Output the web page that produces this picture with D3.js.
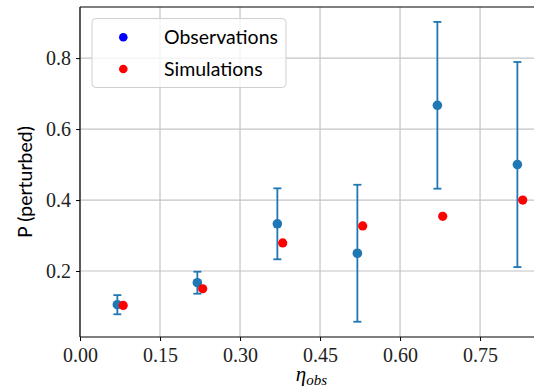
<!DOCTYPE html>
<html>
<head>
<meta charset="utf-8">
<script src="https://cdn.jsdelivr.net/npm/d3@7"></script>
<style>
  html, body { margin: 0; padding: 0; background: #fff; }
  svg { display: block; }
</style>
</head>
<body>
<div id="chart"></div>
<script>
// observations (with error bars) and simulations
const etaObs = [0.07, 0.22, 0.37, 0.52, 0.67, 0.82];
const pObs = [0.105, 0.167, 0.333, 0.25, 0.667, 0.5];
const errObs = [0.027, 0.031, 0.10, 0.193, 0.235, 0.289];
const etaSim = [0.081, 0.23, 0.38, 0.53, 0.68, 0.83];
const pSim = [0.103, 0.150, 0.279, 0.327, 0.354, 0.400];
const xTicks = [0, 0.15, 0.30, 0.45, 0.60, 0.75];
const yTicks = [0.2, 0.4, 0.6, 0.8];
const legendLabels = ['Observations', 'Simulations'];
const legendColors = ['#0000ff', '#ff0000'];

const width = 534, height = 389;
const plotLeft = 80, plotRight = 543, plotTop = 7, plotBottom = 337;
const obsColor = '#1f77b4';
const simColor = '#ff0000';
const gridColor = '#c4c4c4';

const svg = d3.select('#chart').append('svg')
  .attr('width', width)
  .attr('height', height);

const x = d3.scaleLinear().domain([0, 0.868]).range([plotLeft, plotRight]);
const y = d3.scaleLinear().domain([0.014, 0.944]).range([plotBottom, plotTop]);

// Grid
svg.append('g').selectAll('line').data(xTicks).join('line')
  .attr('x1', d => x(d)).attr('x2', d => x(d))
  .attr('y1', plotTop).attr('y2', plotBottom)
  .attr('stroke', gridColor).attr('stroke-width', 1.2);
svg.append('g').selectAll('line').data(yTicks).join('line')
  .attr('x1', plotLeft).attr('x2', plotRight)
  .attr('y1', d => y(d)).attr('y2', d => y(d))
  .attr('stroke', gridColor).attr('stroke-width', 1.2);

// Axes
const xAxis = svg.append('g')
  .attr('transform', `translate(0,${plotBottom})`)
  .call(d3.axisBottom(x).tickValues(xTicks).tickFormat(d3.format('.2f')).tickSizeOuter(0).tickSize(4).tickPadding(5));
const yAxis = svg.append('g')
  .attr('transform', `translate(${plotLeft},0)`)
  .call(d3.axisLeft(y).tickValues(yTicks).tickFormat(d3.format('.1f')).tickSizeOuter(0).tickSize(4).tickPadding(5));

[xAxis, yAxis].forEach(g => {
  g.select('.domain').remove();
  g.selectAll('.tick line').attr('stroke', '#000').attr('stroke-width', 1);
  g.selectAll('.tick text')
    .attr('fill', '#222')
    .style('font-family', '"Liberation Serif", "DejaVu Serif", serif')
    .style('font-size', '20px');
});
xAxis.selectAll('.tick text').attr('dy', '0.8em');

// Spines
const spine = (x1, y1, x2, y2) => svg.append('line')
  .attr('x1', x1).attr('y1', y1).attr('x2', x2).attr('y2', y2)
  .attr('stroke', '#000').attr('stroke-width', 1.2);
spine(plotLeft, plotTop, plotLeft, plotBottom);
spine(plotLeft, plotBottom, plotRight, plotBottom);
spine(plotLeft, plotTop, plotRight, plotTop);
spine(plotRight, plotTop, plotRight, plotBottom);

// Error bars
const obs = etaObs.map((e, i) => ({ x: e, y: pObs[i], err: errObs[i] }));
const eb = svg.append('g').selectAll('g').data(obs).join('g');
eb.append('line')
  .attr('x1', d => x(d.x)).attr('x2', d => x(d.x))
  .attr('y1', d => y(d.y - d.err)).attr('y2', d => y(d.y + d.err))
  .attr('stroke', obsColor).attr('stroke-width', 1.8);
[-1, 1].forEach(s => {
  eb.append('line')
    .attr('x1', d => x(d.x) - 4).attr('x2', d => x(d.x) + 4)
    .attr('y1', d => y(d.y + s * d.err)).attr('y2', d => y(d.y + s * d.err))
    .attr('stroke', obsColor).attr('stroke-width', 1.8);
});

svg.append('g').selectAll('circle').data(obs).join('circle')
  .attr('cx', d => x(d.x)).attr('cy', d => y(d.y)).attr('r', 4.8)
  .attr('fill', obsColor);

svg.append('g').selectAll('circle').data(etaSim).join('circle')
  .attr('cx', d => x(d)).attr('cy', (d, i) => y(pSim[i])).attr('r', 4.6)
  .attr('fill', simColor);

// Legend
const lg = svg.append('g');
lg.append('rect')
  .attr('x', 92).attr('y', 18.5).attr('width', 194).attr('height', 69)
  .attr('rx', 4).attr('fill', '#fff').attr('fill-opacity', 0.8)
  .attr('stroke', '#d0d0d0').attr('stroke-width', 1);
legendLabels.forEach((lab, i) => {
  const cy = 37.3 + i * 31.7;
  lg.append('circle').attr('cx', 123.3).attr('cy', cy).attr('r', 4.3).attr('fill', legendColors[i]);
  lg.append('text').attr('x', 164).attr('y', cy).attr('dy', '0.35em')
    .style('font-family', 'Lato, "DejaVu Sans", sans-serif')
    .style('font-size', '19.5px')
    .attr('fill', '#000')
    .text(lab);
});

// Axis labels
svg.append('text')
  .attr('transform', `translate(32,${(plotTop + plotBottom) / 2 + 10}) rotate(-90)`)
  .attr('text-anchor', 'middle')
  .style('font-family', 'Lato, "DejaVu Sans", sans-serif')
  .style('font-size', '19.5px')
  .text('P (perturbed)');

const xl = svg.append('text')
  .attr('x', (plotLeft + plotRight) / 2).attr('y', 381)
  .attr('text-anchor', 'middle')
  .style('font-family', '"Liberation Serif", "DejaVu Serif", serif')
  .style('font-style', 'italic');
xl.append('tspan').style('font-size', '21px').text('η');
xl.append('tspan').attr('dy', 4).style('font-size', '15px').text('obs');
</script>
</body>
</html>
